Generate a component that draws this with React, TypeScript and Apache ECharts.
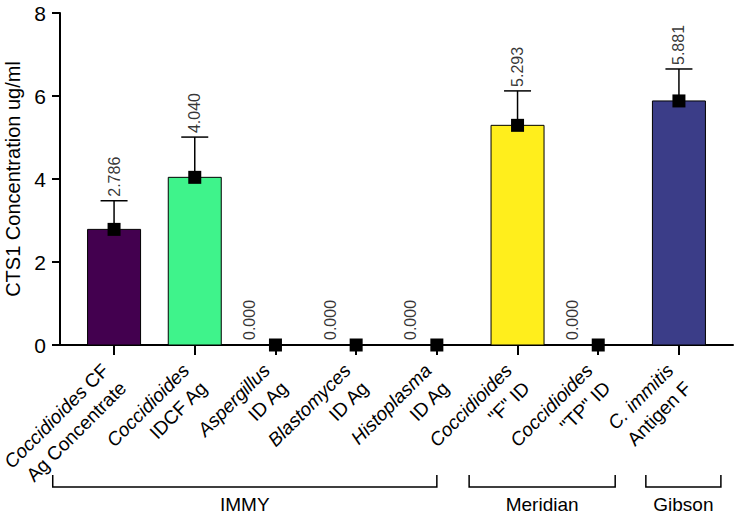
import React, { useEffect, useRef } from "react";
import * as echarts from "echarts";

const labelItalic = ["Coccidioides", "Coccidioides", "Aspergillus", "Blastomyces", "Histoplasma", "Coccidioides", "Coccidioides", "C. immitis"];
const labelRest = [" CF", "", "", "", "", "", "", ""];
const labelLine2 = ["Ag Concentrate", "IDCF Ag", "ID Ag", "ID Ag", "ID Ag", "\"F\" ID", "\"TP\" ID", "Antigen F"];
const means = [2.786, 4.04, 0, 0, 0, 5.293, 0, 5.881];
const errUp = [0.69, 0.97, 0, 0, 0, 0.83, 0, 0.77];
const barColors = ["#43004F", "#3FF38B", "#FFEE1C", "#FFEE1C", "#FFEE1C", "#FFEE1C", "#FFEE1C", "#3B3D88"];
const groupNames = ["IMMY", "Meridian", "Gibson"];
const groupStart = [-0.76, 4.4, 6.59];
const groupEnd = [4.0, 6.21, 7.52];

const FONT = "'Liberation Sans', Arial, Helvetica, sans-serif";
const BAR_W = 53;

export default function App() {
  const ref = useRef<HTMLDivElement>(null);
  useEffect(() => {
    if (!ref.current) return;
    const chart = echarts.init(ref.current, undefined, { renderer: "svg" });
    const idx = means.map((_, i) => i);
    const option: any = {
      animation: false,
      backgroundColor: "#fff",
      textStyle: { fontFamily: FONT },
      grid: { left: 60, right: 7, top: 13, bottom: 173, containLabel: false, outerBoundsMode: "none" },
      xAxis: {
        type: "value",
        min: -0.67,
        max: 7.67,
        splitLine: { show: false },
        axisLine: { show: true, onZero: false, lineStyle: { color: "#000", width: 2 } },
        axisTick: { show: true, customValues: idx, length: 10, lineStyle: { color: "#000", width: 2 } },
        axisLabel: {
          show: true,
          customValues: idx,
          rotate: 45,
          margin: 31,
          formatter: (v: number) => {
            const i = Math.round(v);
            const rest = labelRest[i] ? `{n|${labelRest[i]}}` : "";
            return `{i|${labelItalic[i]}}${rest}\n{n|${labelLine2[i]}}`;
          },
          rich: {
            i: { fontStyle: "italic", fontSize: 19, fontFamily: FONT, color: "#000", lineHeight: 25 },
            n: { fontSize: 19, fontFamily: FONT, color: "#000", lineHeight: 25 },
          },
        },
      },
      yAxis: {
        type: "value",
        min: 0,
        max: 8,
        interval: 2,
        splitLine: { show: false },
        axisLine: { show: true, onZero: false, lineStyle: { color: "#000", width: 2 } },
        axisTick: { show: true, length: 8, lineStyle: { color: "#000", width: 2 } },
        axisLabel: { fontSize: 21, color: "#000", margin: 14, fontFamily: FONT },
        name: "CTS1 Concentration ug/ml",
        nameLocation: "middle",
        nameGap: 32,
        nameTextStyle: { fontSize: 20, color: "#000", fontFamily: FONT },
      },
      series: [
        {
          type: "custom",
          z: 2,
          data: means.map((m, i) => [i, m, i]),
          renderItem: (params: any, api: any) => {
            const x = api.value(0);
            const y = api.value(1);
            const c = api.value(2);
            if (y <= 0) return null;
            const top = api.coord([x, y]);
            const base = api.coord([x, 0]);
            return {
              type: "rect",
              shape: { x: top[0] - BAR_W / 2, y: top[1], width: BAR_W, height: base[1] - top[1] },
              style: { fill: barColors[c], stroke: "#000", lineWidth: 1 },
            };
          },
        },
        {
          type: "custom",
          z: 3,
          data: means.map((m, i) => [i, m, m + errUp[i]]),
          renderItem: (params: any, api: any) => {
            const x = api.value(0);
            const y = api.value(1);
            const top = api.value(2);
            if (top <= y) return null;
            const p0 = api.coord([x, y]);
            const p1 = api.coord([x, top]);
            const half = 13.5;
            const style = { stroke: "#000", lineWidth: 1.5 };
            return {
              type: "group",
              children: [
                { type: "line", shape: { x1: p0[0], y1: p0[1], x2: p1[0], y2: p1[1] }, style },
                { type: "line", shape: { x1: p1[0] - half, y1: p1[1], x2: p1[0] + half, y2: p1[1] }, style },
              ],
            };
          },
        },
        {
          type: "scatter",
          z: 4,
          symbol: "rect",
          symbolSize: 13,
          itemStyle: { color: "#000", opacity: 1 },
          data: means.map((m, i) => [i, m]),
        },
        {
          type: "scatter",
          z: 5,
          symbolSize: 0,
          silent: true,
          data: means.map((m, i) => ({
            value: [i, m + errUp[i]],
            label: m === 0 ? { offset: [0, -26], distance: 5 } : { distance: 4 },
          })),
          label: {
            show: true,
            position: "top",
            rotate: 90,
            align: "left",
            verticalAlign: "middle",
            fontSize: 16,
            color: "#000",
            fontFamily: FONT,
            formatter: (p: any) => means[p.dataIndex].toFixed(3),
          },
        },
        {
          type: "custom",
          z: 5,
          clip: false,
          silent: true,
          data: groupNames.map((_, g) => [groupStart[g], groupEnd[g], g]),
          renderItem: (params: any, api: any) => {
            const s = api.coord([api.value(0), 0]);
            const e = api.coord([api.value(1), 0]);
            const g = api.value(2);
            const y0 = s[1];
            return {
              type: "group",
              children: [
                {
                  type: "polyline",
                  shape: {
                    points: [
                      [s[0], y0 + 130],
                      [s[0], y0 + 142],
                      [e[0], y0 + 142],
                      [e[0], y0 + 130],
                    ],
                  },
                  style: { stroke: "#000", lineWidth: 1.5, fill: null },
                },
                {
                  type: "text",
                  style: {
                    text: groupNames[g],
                    x: (s[0] + e[0]) / 2,
                    y: y0 + 159,
                    align: "center",
                    verticalAlign: "middle",
                    fontSize: 19,
                    fontFamily: FONT,
                    fill: "#000",
                  },
                },
              ],
            };
          },
        },
      ],
    };
    chart.setOption(option);
    return () => chart.dispose();
  }, []);
  return (
    <div
      ref={ref}
      style={{ position: "fixed", left: 0, top: 0, width: 740, height: 518, background: "#fff" }}
    />
  );
}
